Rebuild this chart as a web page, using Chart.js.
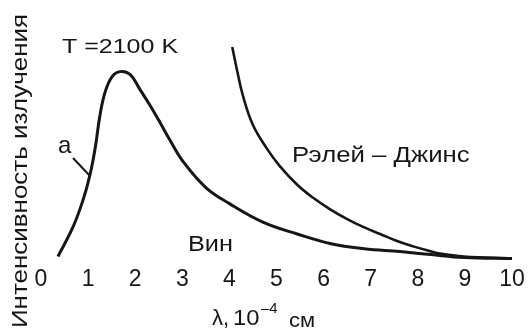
<!DOCTYPE html>
<html>
<head>
<meta charset="utf-8">
<script src="https://cdn.jsdelivr.net/npm/chart.js@4/dist/chart.umd.min.js"></script>
<style>
  html, body { margin: 0; padding: 0; background: #fff; }
  canvas { display: block; }
</style>
</head>
<body>
<canvas id="myChart" width="528" height="331"></canvas>
<script>
// Datos (λ en 10^-4 см, intensidad en unidades relativas)
const planckX = [0.36, 0.68, 0.89, 1.04, 1.15, 1.25, 1.36, 1.51, 1.68, 1.89, 2.10, 2.31, 2.53, 2.74, 3.0, 3.5, 4.0, 4.71, 5.44, 6.16, 6.86, 7.62, 8.28, 8.98, 10.0];
const planckY = [3.1, 18.6, 32.5, 45.9, 59.8, 76.8, 89.2, 97.4, 100, 98.5, 90.7, 82.5, 73.2, 64.0, 53.4, 39.2, 30.8, 21.1, 14.9, 9.8, 7.2, 5.7, 4.1, 2.6, 2.1];

const rjX = [4.06, 4.16, 4.29, 4.50, 4.80, 5.07, 5.44, 5.77, 6.14, 6.50, 6.84, 7.20, 7.56, 7.90, 8.26, 8.47, 8.98, 10.0];
const rjY = [112.9, 101, 87.1, 72.0, 59.5, 50.5, 40.7, 34.0, 27.8, 22.7, 18.6, 14.9, 11.2, 8.4, 5.9, 4.6, 3.1, 2.1];

const xTicks = [0, 1, 2, 3, 4, 5, 6, 7, 8, 9, 10];

const ink = '#161616';
const font = '"Liberation Sans", Arial, sans-serif';

function toPoints(xs, ys) {
    return xs.map((x, i) => ({ x: x, y: ys[i] }));
}

// Texto estirado en horizontal (el original es un escaneo ancho)
function wideText(ctx, text, x, y, size, sx) {
    ctx.save();
    ctx.translate(x, y);
    ctx.scale(sx, 1);
    ctx.font = size + 'px ' + font;
    ctx.fillText(text, 0, 0);
    ctx.restore();
}

// Rótulos y títulos de los ejes
const labelsPlugin = {
    id: 'labels',
    afterDraw(chart) {
        const ctx = chart.ctx;
        ctx.save();
        ctx.fillStyle = ink;
        ctx.strokeStyle = ink;
        ctx.textBaseline = 'alphabetic';
        ctx.textAlign = 'left';

        // título del eje Y, girado
        ctx.save();
        ctx.translate(27, 171);
        ctx.rotate(-Math.PI / 2);
        ctx.scale(1.18, 1);
        ctx.font = '22px ' + font;
        ctx.textAlign = 'center';
        ctx.fillText('Интенсивность излучения', 0, 0);
        ctx.restore();

        wideText(ctx, 'T =2100 K', 62, 53, 20, 1.25);
        wideText(ctx, 'a', 58, 153, 24, 1.0);
        wideText(ctx, 'Рэлей – Джинс', 292, 162, 22, 1.17);
        wideText(ctx, 'Вин', 188, 251, 22, 1.15);

        // línea de la letra "a"
        ctx.lineWidth = 2;
        ctx.beginPath();
        ctx.moveTo(73, 158);
        ctx.lineTo(90, 176);
        ctx.stroke();

        // título del eje X con superíndice
        wideText(ctx, 'λ,', 212, 325, 22, 1.0);
        wideText(ctx, '10', 233, 325, 22, 1.08);
        wideText(ctx, '–4', 261, 313, 15, 1.0);
        wideText(ctx, 'см', 289, 327, 20, 1.1);

        ctx.restore();
    }
};

const data = {
    datasets: [{
        label: 'Планк',
        data: toPoints(planckX, planckY),
        borderColor: ink,
        borderWidth: 3,
        pointRadius: 0,
        tension: 0.4,
        fill: false
    }, {
        label: 'Рэлей – Джинс',
        data: toPoints(rjX, rjY),
        borderColor: ink,
        borderWidth: 2.6,
        pointRadius: 0,
        tension: 0.4,
        fill: false
    }]
};

const config = {
    type: 'line',
    data: data,
    options: {
        responsive: false,
        animation: false,
        layout: {
            padding: { left: 41, right: 16, top: 43, bottom: 35 }
        },
        plugins: {
            legend: { display: false },
            tooltip: { enabled: false }
        },
        scales: {
            x: {
                type: 'linear',
                min: 0,
                max: 10,
                afterBuildTicks: (axis) => {
                    axis.ticks = xTicks.map(v => ({ value: v }));
                },
                grid: { display: false, drawTicks: false },
                border: { display: false },
                ticks: {
                    color: ink,
                    padding: 3,
                    maxRotation: 0,
                    autoSkip: false,
                    font: { family: font, size: 23 }
                }
            },
            y: {
                display: false,
                min: 0,
                max: 115
            }
        }
    },
    plugins: [labelsPlugin]
};

var myChart = new Chart(
    document.getElementById('myChart'),
    config
);
</script>
</body>
</html>
